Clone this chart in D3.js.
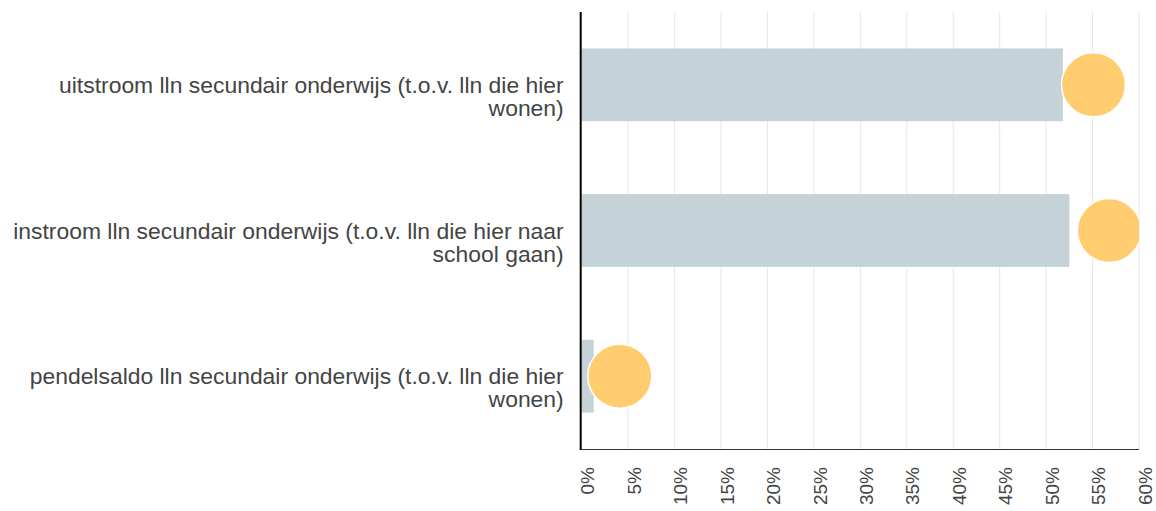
<!DOCTYPE html>
<html>
<head>
<meta charset="utf-8">
<script src="https://cdn.jsdelivr.net/npm/d3@7"></script>
<style>
  body { margin: 0; background: #fff; }
  svg { display: block; font-family: "Liberation Sans", Arial, sans-serif; }
</style>
</head>
<body>
<div id="chart"></div>
<script>
// data
const categories = [
    "uitstroom lln secundair onderwijs (t.o.v. lln die hier wonen)",
    "instroom lln secundair onderwijs (t.o.v. lln die hier naar school gaan)",
    "pendelsaldo lln secundair onderwijs (t.o.v. lln die hier wonen)"
];
const barValues = [51.8, 52.5, 1.3];
const dotValues = [55.1, 56.8, 4.1];
const xTicks = [0, 5, 10, 15, 20, 25, 30, 35, 40, 45, 50, 55, 60];

const width = 1156;
const height = 511;
const margin = {top: 12, right: 17, bottom: 62, left: 581.7};
const innerW = width - margin.left - margin.right;
const innerH = height - margin.top - margin.bottom;

const svg = d3.select('#chart').append('svg')
    .attr('width', width)
    .attr('height', height);

svg.append('defs').append('clipPath')
    .attr('id', 'plot-clip')
    .append('rect')
    .attr('x', 0).attr('y', 0)
    .attr('width', innerW).attr('height', innerH);

const g = svg.append('g').attr('transform', `translate(${margin.left},${margin.top})`);

const x = d3.scaleLinear().domain([0, 60]).range([0, innerW]);
const y = d3.scaleBand().domain(categories).range([0, innerH])
    .paddingInner(0.5).paddingOuter(0.25);

// grid lines
g.append('g').attr('class', 'grid')
    .selectAll('line')
    .data(xTicks.filter(t => t > 0))
    .enter()
    .append('line')
    .attr('x1', d => x(d)).attr('x2', d => x(d))
    .attr('y1', 0).attr('y2', innerH)
    .attr('stroke', '#e6e6e6')
    .attr('stroke-width', 1);

// bars
g.append('g').selectAll('rect')
    .data(categories)
    .enter()
    .append('rect')
    .attr('x', x(0))
    .attr('y', d => y(d))
    .attr('width', (d, i) => x(barValues[i]) - x(0))
    .attr('height', y.bandwidth())
    .attr('fill', '#c5d3d9');

// dots (clipped to plot area)
g.append('g').attr('clip-path', 'url(#plot-clip)')
    .selectAll('circle')
    .data(categories)
    .enter()
    .append('circle')
    .attr('cx', (d, i) => x(dotValues[i]))
    .attr('cy', d => y(d) + y.bandwidth() / 2)
    .attr('r', 32)
    .attr('fill', '#ffcc6f')
    .attr('stroke', '#ffffff')
    .attr('stroke-width', 1.5);

// bottom axis line
g.append('line')
    .attr('x1', 0).attr('x2', innerW)
    .attr('y1', innerH + 0.5).attr('y2', innerH + 0.5)
    .attr('stroke', '#333')
    .attr('stroke-width', 1.2);

// left axis line
g.append('line')
    .attr('x1', -1).attr('x2', -1)
    .attr('y1', 0).attr('y2', innerH + 1)
    .attr('stroke', '#000')
    .attr('stroke-width', 2);

// x tick labels, rotated
g.append('g').selectAll('text')
    .data(xTicks)
    .enter()
    .append('text')
    .attr('transform', d => `translate(${x(d) + 6},${innerH + 18}) rotate(-90)`)
    .attr('dy', '0.35em')
    .attr('text-anchor', 'end')
    .attr('font-size', 19)
    .attr('fill', '#444')
    .text(d => d + '%');

// category labels, wrapped
const maxLabelW = 556;
const labels = g.append('g').selectAll('text')
    .data(categories)
    .enter()
    .append('text')
    .attr('x', -18)
    .attr('y', d => y(d) + y.bandwidth() / 2 + 8)
    .attr('text-anchor', 'end')
    .attr('font-size', 22.9)
    .attr('fill', '#444');

labels.each(function (d) {
    const text = d3.select(this);
    const words = d.split(' ');
    let line = [];
    let tspan = text.append('tspan').attr('x', -18).attr('dy', 0);
    words.forEach(w => {
        line.push(w);
        tspan.text(line.join(' '));
        if (tspan.node().getComputedTextLength() > maxLabelW && line.length > 1) {
            line.pop();
            tspan.text(line.join(' '));
            line = [w];
            tspan = text.append('tspan').attr('x', -18).attr('dy', 23).text(w);
        }
    });
});
</script>
</body>
</html>
